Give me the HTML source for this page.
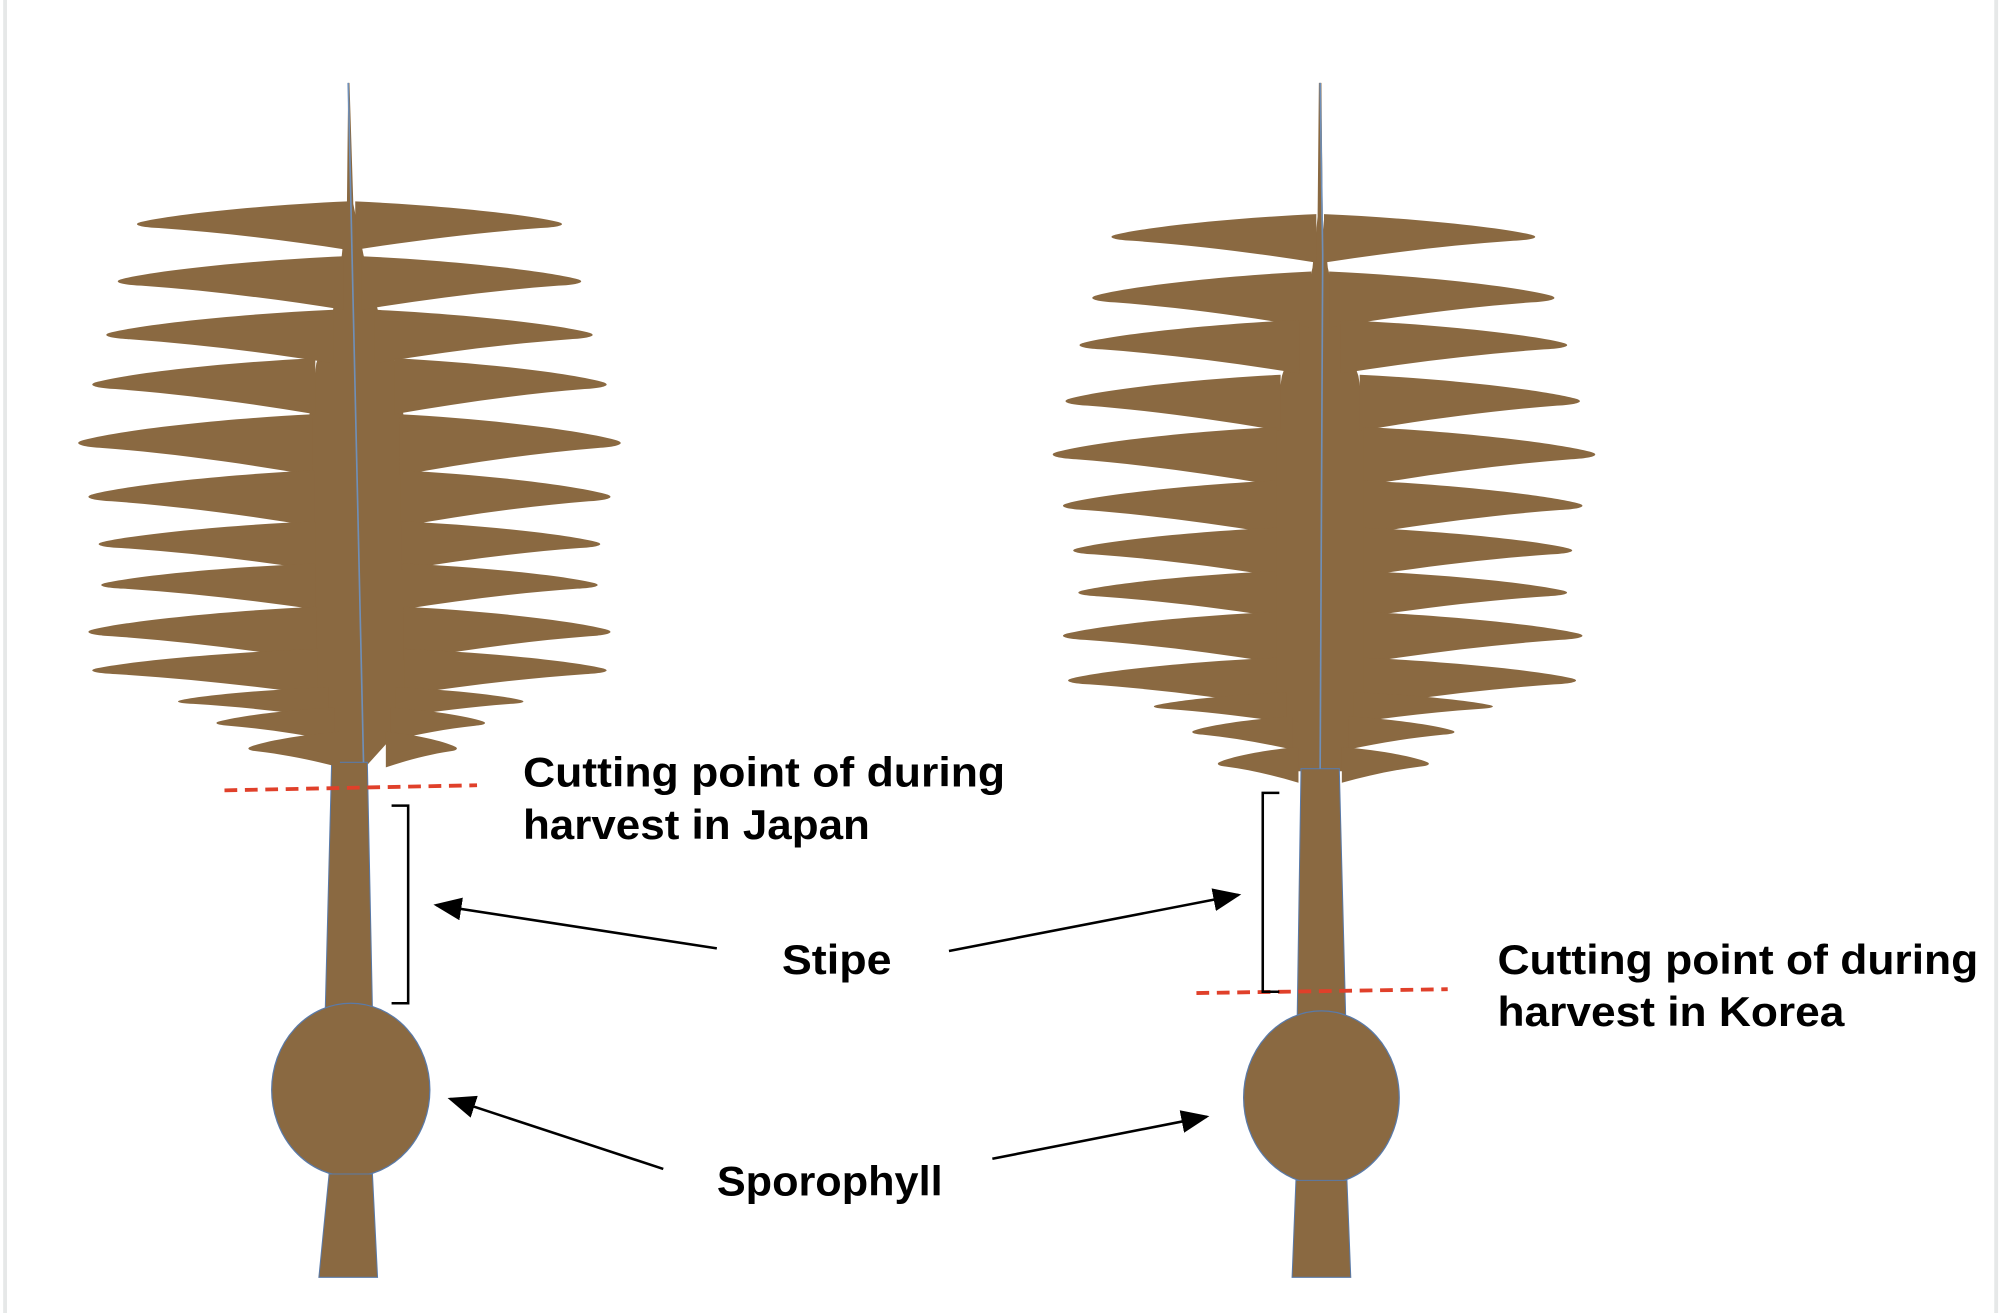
<!DOCTYPE html>
<html><head><meta charset="utf-8"><style>html,body{margin:0;padding:0;background:#fff}svg{display:block}</style></head>
<body>
<svg width="2000" height="1313" viewBox="0 0 1568 1030" preserveAspectRatio="none" xmlns="http://www.w3.org/2000/svg">
<defs>
<path id="b" d="M0,-1 C0.4,-0.85 0.82,-0.48 0.98,-0.16 C1.03,-0.06 1,0.06 0.9,0.1 C0.6,0.28 0.3,0.6 0,1 Z"/>
<marker id="ah2" viewBox="0 0 10 10" refX="9" refY="5" markerWidth="22" markerHeight="18" markerUnits="userSpaceOnUse" orient="auto" preserveAspectRatio="none"><path d="M0,0 L10,5 L0,10 Z" fill="#000"/></marker>
</defs>
<rect x="0" y="0" width="1568" height="1030" fill="#fff"/>
<line x1="4" y1="0" x2="4" y2="1030" stroke="#e6e8e8" stroke-width="3"/>
<line x1="1565" y1="0" x2="1565" y2="1030" stroke="#e6e8e8" stroke-width="3"/>

<g fill="#8A6941">
<!-- LEFT KELP -->
<polygon points="273,65 272,160 268,200 260,250 248,285 242,330 245,540 254,560 262,580 262,600 288,600 306,580 314,560 322,540 317,330 310,285 298,250 285,200 277,160 274,65"/>
<polygon points="260,598 288,598 292,792 255,792" stroke="#5a7aa8" stroke-width="0.8"/>
<g>
<use href="#b" transform="translate(272.5,177) scale(-164.5,19)"/>
<use href="#b" transform="translate(278.5,177) scale(161.5,19)"/>
<use href="#b" transform="translate(269.5,222) scale(-176.5,21)"/>
<use href="#b" transform="translate(283.5,222) scale(171.5,21)"/>
<use href="#b" transform="translate(261.4,264) scale(-177.4,21)"/>
<use href="#b" transform="translate(293.4,264) scale(170.6,21)"/>
<use href="#b" transform="translate(247.2,303) scale(-174.2,22)"/>
<use href="#b" transform="translate(309.2,303) scale(165.8,22)"/>
<use href="#b" transform="translate(245.2,349) scale(-183.2,24)"/>
<use href="#b" transform="translate(313.2,349) scale(172.8,24)"/>
<use href="#b" transform="translate(246.2,391) scale(-176.2,22)"/>
<use href="#b" transform="translate(314.2,391) scale(163.8,22)"/>
<use href="#b" transform="translate(247,428) scale(-169,19)"/>
<use href="#b" transform="translate(315,428) scale(155,19)"/>
<use href="#b" transform="translate(247.7,460) scale(-167.7,18)"/>
<use href="#b" transform="translate(315.7,460) scale(152.3,18)"/>
<use href="#b" transform="translate(248.5,497) scale(-178.5,21)"/>
<use href="#b" transform="translate(316.5,497) scale(161.5,21)"/>
<use href="#b" transform="translate(249.2,527) scale(-176.2,18)"/>
<use href="#b" transform="translate(317.2,527) scale(157.8,18)"/>
<use href="#b" transform="translate(257.7,551) scale(-117.7,12)"/>
<use href="#b" transform="translate(309.7,551) scale(100.3,12)"/>
<use href="#b" transform="translate(262,568) scale(-92,13)"/>
<use href="#b" transform="translate(306,568) scale(74,13)"/>
<use href="#b" transform="translate(266.5,588) scale(-71.5,14)"/>
<use href="#b" transform="translate(302.5,588) scale(55.5,14)"/>
</g>
<ellipse cx="275" cy="855" rx="62" ry="68" stroke="#5a7aa8" stroke-width="1"/>
<polygon points="258,921 292,921 296,1002 250,1002" stroke="#5a7aa8" stroke-width="0.8"/>

<!-- RIGHT KELP -->
<polygon points="1034,65 1033,170 1029,210 1017,260 1005,295 998,340 997,545 1005,565 1012,585 1015,605 1055,605 1058,585 1065,565 1073,545 1072,340 1065,295 1053,260 1041,210 1037,170 1036,65"/>
<polygon points="1020,603 1050,603 1055,797 1017,797" stroke="#5a7aa8" stroke-width="0.8"/>
<g>
<use href="#b" transform="translate(1032,187) scale(-160,19)"/>
<use href="#b" transform="translate(1038,187) scale(165,19)"/>
<use href="#b" transform="translate(1028,235) scale(-171,22)"/>
<use href="#b" transform="translate(1042,235) scale(176,22)"/>
<use href="#b" transform="translate(1019,272) scale(-172,21)"/>
<use href="#b" transform="translate(1051,272) scale(177,21)"/>
<use href="#b" transform="translate(1004,316) scale(-168,22)"/>
<use href="#b" transform="translate(1066,316) scale(172,22)"/>
<use href="#b" transform="translate(1001,358) scale(-175,23)"/>
<use href="#b" transform="translate(1069,358) scale(181,23)"/>
<use href="#b" transform="translate(1001,398) scale(-167,21)"/>
<use href="#b" transform="translate(1069,398) scale(171,21)"/>
<use href="#b" transform="translate(1001,433) scale(-159,19)"/>
<use href="#b" transform="translate(1069,433) scale(163,19)"/>
<use href="#b" transform="translate(1001,466) scale(-155,18)"/>
<use href="#b" transform="translate(1069,466) scale(159,18)"/>
<use href="#b" transform="translate(1001,500) scale(-167,20)"/>
<use href="#b" transform="translate(1069,500) scale(171,20)"/>
<use href="#b" transform="translate(1001,535) scale(-163,19)"/>
<use href="#b" transform="translate(1069,535) scale(166,19)"/>
<use href="#b" transform="translate(1009,555) scale(-104,12)"/>
<use href="#b" transform="translate(1061,555) scale(109,12)"/>
<use href="#b" transform="translate(1013,575) scale(-78,13)"/>
<use href="#b" transform="translate(1057,575) scale(83,13)"/>
<use href="#b" transform="translate(1018,600) scale(-63,14)"/>
<use href="#b" transform="translate(1052,600) scale(68,14)"/>
</g>
<ellipse cx="1036" cy="861" rx="61" ry="68" stroke="#5a7aa8" stroke-width="1"/>
<polygon points="1016,926 1056,926 1059,1002 1013,1002" stroke="#5a7aa8" stroke-width="0.8"/>
</g>

<!-- midribs -->
<polyline points="273,65 276,200 285,598" fill="none" stroke="#6f8fb8" stroke-width="1.3"/>
<polyline points="1035,65 1037,200 1035,603" fill="none" stroke="#6f8fb8" stroke-width="1.3"/>

<!-- cut lines -->
<line x1="176" y1="620" x2="374" y2="616" stroke="#e0402a" stroke-width="3" stroke-dasharray="10,6"/>
<line x1="938" y1="779" x2="1135" y2="776" stroke="#e0402a" stroke-width="3" stroke-dasharray="10,6"/>

<!-- brackets -->
<polyline points="307,632 320,632 320,787 307,787" fill="none" stroke="#000" stroke-width="2"/>
<polyline points="1003,622 990,622 990,778 1003,778" fill="none" stroke="#000" stroke-width="2"/>

<!-- arrows -->
<g stroke="#000" stroke-width="2" fill="none">
<line x1="562" y1="744" x2="342" y2="710" marker-end="url(#ah2)"/>
<line x1="744" y1="746" x2="971" y2="702" marker-end="url(#ah2)"/>
<line x1="520" y1="917" x2="353" y2="862" marker-end="url(#ah2)"/>
<line x1="778" y1="909" x2="946" y2="876" marker-end="url(#ah2)"/>
</g>

<!-- labels -->
<g font-family="'Liberation Sans', sans-serif" font-weight="bold" font-size="33" fill="#000">
<text x="410" y="617" textLength="378" lengthAdjust="spacingAndGlyphs">Cutting point of during</text>
<text x="410" y="658" textLength="272" lengthAdjust="spacingAndGlyphs">harvest in Japan</text>
<text x="613" y="764" textLength="86" lengthAdjust="spacingAndGlyphs">Stipe</text>
<text x="1174" y="764" textLength="377" lengthAdjust="spacingAndGlyphs">Cutting point of during</text>
<text x="1174" y="805" textLength="272" lengthAdjust="spacingAndGlyphs">harvest in Korea</text>
<text x="562" y="938" textLength="177" lengthAdjust="spacingAndGlyphs">Sporophyll</text>
</g>
</svg>
</body></html>
